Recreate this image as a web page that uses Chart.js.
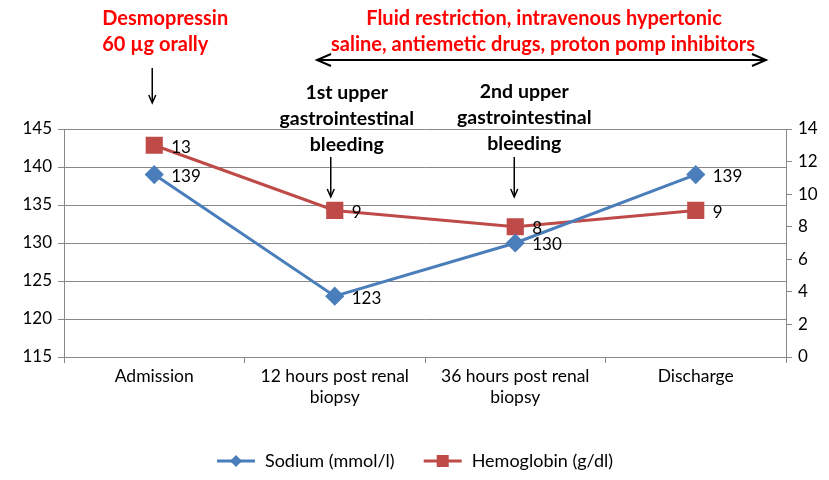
<!DOCTYPE html>
<html>
<head>
<meta charset="utf-8">
<script src="https://cdn.jsdelivr.net/npm/chart.js@4.4.1/dist/chart.umd.min.js"></script>
<style>
  html, body { margin: 0; padding: 0; background: #fff; }
  #wrap { width: 829px; height: 480px; }
</style>
</head>
<body>
<div id="wrap"><canvas id="myChart"></canvas></div>
<script>
const categories = ['Admission', ['12 hours post renal', 'biopsy'], ['36 hours post renal', 'biopsy'], 'Discharge'];
const sodium = [139, 123, 130, 139];
const hemoglobin = [13, 9, 8, 9];
const sodiumTicks = [115, 120, 125, 130, 135, 140, 145];
const hbTicks = [0, 2, 4, 6, 8, 10, 12, 14];

const BLUE = '#4A7EBB';
const RED = '#BE4B48';
const FONT = 'Lato, "Open Sans", sans-serif';

// legend swatch: a short line with the marker on it, like Excel
function swatch(color, shape) {
    const c = document.createElement('canvas');
    c.width = 40; c.height = 16;
    const g = c.getContext('2d');
    g.strokeStyle = color; g.lineWidth = 3;
    g.beginPath(); g.moveTo(1, 8); g.lineTo(39, 8); g.stroke();
    g.fillStyle = color;
    g.beginPath();
    if (shape === 'diamond') {
        g.moveTo(20, 2); g.lineTo(26, 8); g.lineTo(20, 14); g.lineTo(14, 8);
    } else {
        g.rect(14, 2, 12, 12);
    }
    g.closePath(); g.fill();
    return c;
}

const notes = {
    id: 'notes',
    afterDraw(chart) {
        const ctx = chart.ctx;
        const x = chart.scales.x;
        const px = i => x.getPixelForValue(i);
        ctx.save();
        ctx.textBaseline = 'middle';

        // red treatment notes
        ctx.fillStyle = '#FF0000';
        ctx.font = 'bold 20px ' + FONT;
        ctx.textAlign = 'left';
        ctx.fillText('Desmopressin', px(0) - 52, 19);
        ctx.fillText('60 \u00b5g orally', px(0) - 52, 45);
        ctx.textAlign = 'center';
        ctx.fillText('Fluid restriction, intravenous hypertonic', 544, 19);
        ctx.fillText('saline, antiemetic drugs, proton pomp inhibitors', 543, 45);

        // black bleeding notes
        ctx.fillStyle = '#000';
        ctx.font = 'bold 19.5px ' + FONT;
        [[1, '1st upper', 12, 0], [2, '2nd upper', 9, -1]].forEach(([i, t, dx, dy]) => {
            const cx = px(i) + dx;
            ctx.fillText(t, cx, 93 + dy);
            ctx.fillText('gastrointestinal', cx, 119 + dy);
            ctx.fillText('bleeding', cx, 145 + dy);
        });

        ctx.strokeStyle = '#000';
        ctx.fillStyle = '#000';
        ctx.lineWidth = 1.5;
        function down(cx, y0, y1) {
            ctx.beginPath(); ctx.moveTo(cx, y0); ctx.lineTo(cx, y1 - 2); ctx.stroke();
            ctx.beginPath(); ctx.moveTo(cx - 3.5, y1 - 8); ctx.lineTo(cx, y1); ctx.lineTo(cx + 3.5, y1 - 8); ctx.stroke();
        }
        down(px(0) - 2, 68, 103);
        down(px(1) - 4, 157, 197);
        down(px(2) - 1, 157, 197);

        // double arrow
        ctx.lineWidth = 2;
        const y = 60, xa = 317, xb = 766;
        ctx.beginPath(); ctx.moveTo(xa, y); ctx.lineTo(xb, y); ctx.stroke();
        ctx.beginPath(); ctx.moveTo(xa + 14, y - 6); ctx.lineTo(xa, y); ctx.lineTo(xa + 14, y + 6); ctx.stroke();
        ctx.beginPath(); ctx.moveTo(xb - 14, y - 6); ctx.lineTo(xb, y); ctx.lineTo(xb - 14, y + 6); ctx.stroke();

        // value labels to the right of each point
        ctx.textAlign = 'left';
        ctx.font = '17px ' + FONT;
        chart.data.datasets.forEach((ds, di) => {
            chart.getDatasetMeta(di).data.forEach((pt, i) => {
                ctx.fillText(String(ds.data[i]), pt.x + 17, pt.y + 2);
            });
        });
        ctx.restore();
    }
};

new Chart(document.getElementById('myChart'), {
    type: 'line',
    data: {
        labels: categories,
        datasets: [
            {
                label: 'Sodium (mmol/l)',
                data: sodium,
                yAxisID: 'y',
                borderColor: BLUE,
                backgroundColor: BLUE,
                borderWidth: 3,
                pointStyle: 'rectRot',
                pointRadius: 7.5,
                pointHoverRadius: 7.5,
                tension: 0
            },
            {
                label: 'Hemoglobin (g/dl)',
                data: hemoglobin,
                yAxisID: 'y2',
                borderColor: RED,
                backgroundColor: RED,
                borderWidth: 3,
                pointStyle: 'rect',
                pointRadius: 10,
                pointHoverRadius: 10,
                tension: 0
            }
        ]
    },
    options: {
        responsive: true,
        maintainAspectRatio: false,
        animation: false,
        layout: { padding: { top: 129, left: 0, right: 0, bottom: 0 } },
        plugins: {
            tooltip: { enabled: false },
            legend: {
                position: 'bottom',
                labels: {
                    font: { family: FONT, size: 18 },
                    color: '#000',
                    usePointStyle: true,
                    pointStyleWidth: 40,
                    boxHeight: 16,
                    padding: 28,
                    generateLabels(chart) {
                        return chart.data.datasets.map((ds, i) => ({
                            text: ds.label,
                            datasetIndex: i,
                            fontColor: '#000',
                            pointStyle: swatch(ds.borderColor, i === 0 ? 'diamond' : 'square'),
                            lineWidth: 0,
                            strokeStyle: 'transparent',
                            fillStyle: ds.borderColor
                        }));
                    }
                }
            }
        },
        scales: {
            x: {
                offset: true,
                grid: { offset: true, drawOnChartArea: false, drawTicks: true, tickLength: 6, color: '#888' },
                border: { color: '#888' },
                ticks: { font: { family: FONT, size: 17.5 }, color: '#000', maxRotation: 0, padding: 3 },
                afterFit(s) { s.height = 67; }
            },
            y: {
                position: 'left',
                min: 115, max: 145,
                afterBuildTicks(s) { s.ticks = sodiumTicks.map(v => ({ value: v })); },
                grid: { color: '#888', tickLength: 6 },
                border: { color: '#888' },
                ticks: { font: { family: FONT, size: 17 }, color: '#000', padding: 6 },
                afterFit(s) { s.width = 64; }
            },
            y2: {
                position: 'right',
                min: 0, max: 14,
                afterBuildTicks(s) { s.ticks = hbTicks.map(v => ({ value: v })); },
                grid: { drawOnChartArea: false, color: '#888', tickLength: 6 },
                border: { color: '#888' },
                ticks: { font: { family: FONT, size: 17 }, color: '#000', padding: 6 },
                afterFit(s) { s.width = 43; }
            }
        }
    },
    plugins: [notes]
});
</script>
</body>
</html>
